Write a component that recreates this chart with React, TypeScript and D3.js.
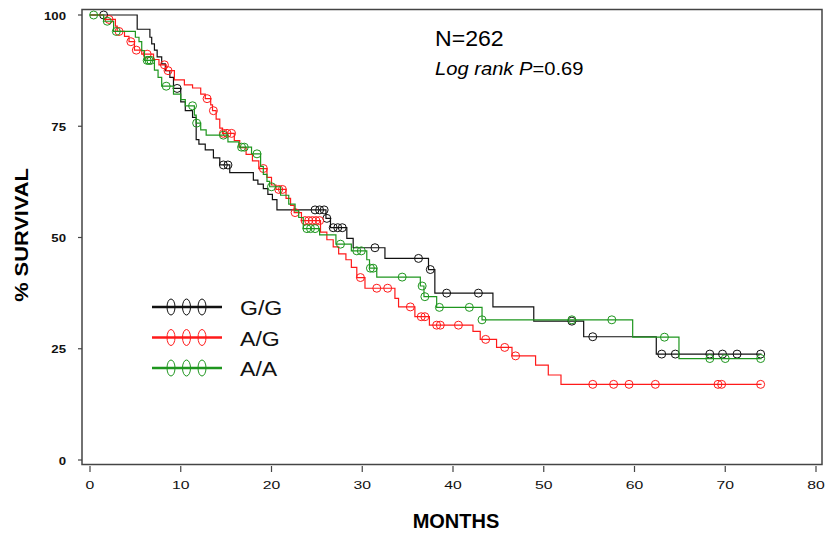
import React from "react";
import * as d3 from "d3";

// survival curves: drop times (months) and level after each drop (%)
const ggTimes = [5.2, 6.6, 6.8, 7.1, 7.4, 7.9, 8.3, 8.8, 9.2, 10.0, 10.5, 11.3, 11.7, 12.0, 12.7, 13.6, 14.3, 15.4, 18.0, 18.5, 19.1, 19.6, 20.1, 20.6, 26.0, 26.5, 28.3, 29.0, 32.5, 37.3, 38.0, 44.4, 48.9, 54.4, 62.4];
const ggSurv = [96.8, 95.0, 93.5, 92.1, 90.6, 89.0, 87.5, 86.0, 83.5, 80.5, 78.5, 77.0, 72.0, 71.0, 69.7, 67.9, 66.3, 64.6, 62.9, 62.0, 61.0, 59.7, 58.5, 56.2, 54.3, 52.2, 49.8, 47.7, 45.3, 42.8, 37.5, 34.4, 31.2, 27.7, 23.8];
const ggCensor = [1.5, 9.6, 14.7, 15.2, 24.8, 25.3, 25.8, 26.1, 26.8, 27.3, 27.8, 31.4, 36.2, 37.5, 39.3, 42.8, 53.1, 55.4, 63.0, 64.5, 68.3, 69.7, 71.3, 73.9];

const agTimes = [1.5, 2.8, 3.0, 3.8, 4.3, 4.9, 5.7, 7.0, 7.6, 8.4, 9.3, 10.4, 11.3, 12.2, 12.7, 13.3, 13.5, 13.9, 14.3, 14.6, 15.9, 16.5, 17.2, 17.9, 18.6, 19.5, 20.0, 20.5, 21.6, 22.1, 22.5, 23.3, 25.4, 26.1, 26.8, 27.4, 28.2, 28.8, 29.4, 30.3, 33.6, 34.0, 35.8, 37.4, 42.2, 43.0, 44.8, 46.5, 49.1, 50.5, 51.9];
const agSurv = [99.0, 97.5, 96.3, 95.2, 94.0, 92.1, 91.2, 90.0, 88.8, 87.5, 85.4, 84.3, 83.6, 82.2, 81.2, 79.8, 78.5, 76.6, 74.6, 73.4, 71.8, 70.2, 68.7, 67.2, 65.5, 63.5, 61.8, 60.8, 58.8, 57.2, 55.6, 53.8, 51.2, 49.5, 47.9, 46.3, 45.0, 43.3, 41.0, 38.6, 36.3, 34.4, 32.2, 30.3, 28.9, 27.1, 25.3, 23.4, 21.3, 19.1, 17.0];
const agCensor = [2.1, 3.2, 4.5, 5.1, 6.3, 8.2, 8.6, 12.9, 13.6, 14.7, 15.1, 15.6, 19.1, 20.8, 21.2, 22.6, 23.7, 24.1, 24.5, 24.9, 25.3, 29.8, 31.6, 32.8, 35.3, 36.5, 36.9, 38.2, 38.6, 40.6, 43.6, 45.7, 46.9, 55.4, 57.7, 59.4, 62.3, 69.2, 69.6, 73.9];

const aaTimes = [1.5, 2.6, 5.0, 5.4, 5.7, 6.0, 7.1, 7.5, 7.9, 9.2, 10.0, 10.5, 11.5, 11.7, 12.2, 12.8, 15.2, 16.4, 17.8, 18.8, 19.1, 19.5, 19.8, 21.0, 21.9, 22.6, 23.0, 23.5, 25.3, 27.1, 28.8, 30.5, 30.8, 31.6, 36.4, 36.8, 38.2, 43.2, 59.8, 64.9];
const aaSurv = [98.6, 96.3, 95.0, 94.0, 92.0, 89.8, 87.6, 86.0, 84.0, 82.2, 81.0, 79.6, 77.5, 75.7, 74.2, 73.0, 71.5, 70.3, 68.8, 66.0, 64.2, 62.6, 61.4, 59.5, 57.5, 56.0, 54.5, 52.0, 50.6, 48.5, 47.0, 45.0, 43.1, 41.1, 39.1, 36.7, 34.3, 31.5, 27.6, 22.8];
const aaCensor = [0.4, 1.9, 2.9, 6.3, 6.5, 6.7, 8.4, 11.3, 11.75, 14.7, 16.7, 17.0, 18.4, 20.0, 23.9, 24.3, 24.8, 27.6, 29.4, 29.9, 30.9, 31.2, 34.4, 36.6, 36.9, 38.5, 41.8, 43.2, 53.1, 57.5, 63.3, 68.3, 70.0, 73.9];

const groups = ["G/G", "A/G", "A/A"];
const colors = ["#111111", "#ff1a1a", "#1e961e"];
const xTicks = [0, 10, 20, 30, 40, 50, 60, 70, 80];
const yTicks = [0, 25, 50, 75, 100];
const endTime = 74;

const series = [
  { name: groups[0], times: ggTimes, surv: ggSurv, censor: ggCensor, color: colors[0] },
  { name: groups[1], times: agTimes, surv: agSurv, censor: agCensor, color: colors[1] },
  { name: groups[2], times: aaTimes, surv: aaSurv, censor: aaCensor, color: colors[2] },
];

const font = "'Liberation Sans', Arial, sans-serif";

export default function App() {
  const width = 825, height = 536;
  const x = d3.scaleLinear().domain([0, 80]).range([90, 816]);
  const y = d3.scaleLinear().domain([0, 100]).range([460, 15]);

  const line = d3.line<[number, number]>()
    .x(d => x(d[0]))
    .y(d => y(d[1]))
    .curve(d3.curveStepAfter);

  const levelAt = (s: typeof series[0], t: number) => {
    const i = d3.bisectRight(s.times, t);
    return i === 0 ? 100 : s.surv[i - 1];
  };

  return (
    <svg width={width} height={height} style={{ position: "absolute", left: 0, top: 0, background: "#fff" }}>
      {/* frame */}
      <rect x={82} y={9.5} width={740} height={455} fill="none" stroke="#444" strokeWidth={1.5} />

      {/* x ticks */}
      {xTicks.map(t => (
        <g key={t}>
          <line x1={x(t)} x2={x(t)} y1={466} y2={472} stroke="#444" strokeWidth={1.2} />
          <text transform={`translate(${x(t)},489) scale(1.5,1)`} textAnchor="middle"
            fontFamily={font} fontSize={10.5} fill="#111">{t}</text>
        </g>
      ))}

      {/* y ticks */}
      {yTicks.map(t => (
        <g key={t}>
          <line x1={78} x2={82} y1={y(t)} y2={y(t)} stroke="#444" strokeWidth={1.2} />
          <text transform={`translate(66,${y(t) + 4.5}) scale(1.15,1)`} textAnchor="end"
            fontFamily={font} fontSize={11.5} fontWeight="bold" fill="#111">{t}</text>
        </g>
      ))}

      {/* axis titles */}
      <text transform="translate(28,235) rotate(-90) scale(1.18,1)" textAnchor="middle"
        fontFamily={font} fontSize={18.5} fontWeight="bold">% SURVIVAL</text>
      <text x={456} y={528} textAnchor="middle" fontFamily={font} fontSize={20} fontWeight="bold">MONTHS</text>

      {/* curves */}
      {series.map(s => {
        const pts: [number, number][] = [[0, 100]];
        s.times.forEach((t, i) => pts.push([t, s.surv[i]]));
        pts.push([endTime, s.surv[s.surv.length - 1]]);
        return (
          <g key={s.name}>
            <path d={line(pts) || ""} fill="none" stroke={s.color} strokeWidth={1.2} />
            {s.censor.map((c, i) => (
              <circle key={i} cx={x(c)} cy={y(levelAt(s, c))} r={4} fill="none" stroke={s.color} strokeWidth={1} />
            ))}
          </g>
        );
      })}

      {/* annotations */}
      <text transform="translate(435,46) scale(1.05,1)" fontFamily={font} fontSize={22}>N=262</text>
      <text transform="translate(435,75) scale(1.12,1)" fontFamily={font} fontSize={18}>
        <tspan fontStyle="italic">Log rank P</tspan>=0.69
      </text>

      {/* legend */}
      {series.map((s, i) => {
        const ly = 307 + i * 30.5;
        return (
          <g key={s.name}>
            <line x1={152} x2={222} y1={ly} y2={ly} stroke={s.color} strokeWidth={2.5} />
            {[171, 186.5, 202].map(cx => (
              <ellipse key={cx} cx={cx} cy={ly} rx={4} ry={8} fill="none" stroke={s.color} strokeWidth={1} />
            ))}
            <text transform={`translate(240,${ly + 8}) scale(1.1,1)`} fontFamily={font} fontSize={21} fill="#111">{s.name}</text>
          </g>
        );
      })}
    </svg>
  );
}
